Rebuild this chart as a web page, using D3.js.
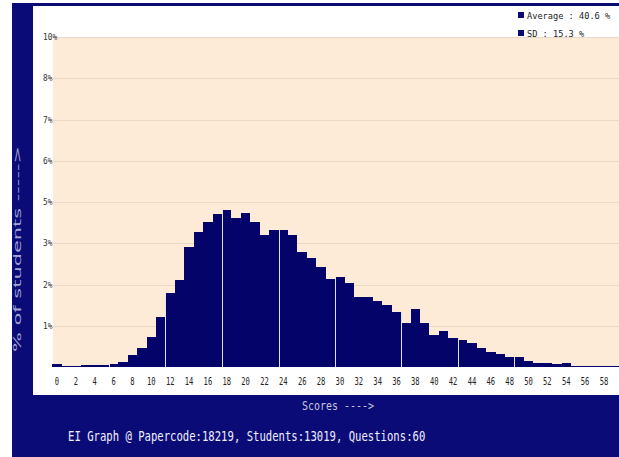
<!DOCTYPE html>
<html>
<head>
<meta charset="utf-8">
<script src="https://cdn.jsdelivr.net/npm/d3@7"></script>
<style>
	body { margin: 0; background: #fff; }
	svg { display: block; }
</style>
</head>
<body>
<svg id="viz"></svg>
<script>
/* data */
var scores = d3.range(0, 61);
var percents = [
	0.10, 0.03, 0.03, 0.05, 0.05, 0.05, 0.10, 0.15, 0.35, 0.58,
	0.92, 1.52, 2.23, 2.64, 3.63, 4.09, 4.38, 4.63, 4.76, 4.52,
	4.66, 4.38, 4.01, 4.14, 4.14, 3.99, 3.48, 3.29, 3.04, 2.68,
	2.72, 2.54, 2.11, 2.11, 2.01, 1.87, 1.68, 1.34, 1.77, 1.34,
	0.96, 1.10, 0.87, 0.82, 0.72, 0.58, 0.46, 0.38, 0.29, 0.29,
	0.19, 0.11, 0.11, 0.08, 0.13, 0.03, 0.03, 0.03, 0.03, 0.03,
	0.03
];
var xTickLabels = d3.range(0, 60, 2);
var yTicks = [1.25, 2.5, 3.75, 5, 6.25, 7.5, 8.75, 10];
var dividers = [6, 12, 18, 24, 30, 37, 43, 49];
var legendItems = ["Average : 40.6 %", "SD : 15.3 %"];
var titleText = "EI Graph @ Papercode:18219, Students:13019, Questions:60";

/* create svg */
var width = 619,
	height = 457;

var plot = { left: 53, right: 619, top: 37, bottom: 367 };

var svg = d3.select('#viz')
		.attr('width', width)
		.attr('height', height);

var x = d3.scaleLinear()
	.domain([-0.5, 60.5])
	.range([52.3, 52.3 + 61 * 9.43]);

var y = d3.scaleLinear()
	.domain([0, 10])
	.range([plot.bottom, plot.top]);

var mono = "'DejaVu Sans Mono', monospace";

// squeeze mono text to the narrow bitmap look
var fitText = function(sel, charW){
	sel.attr("textLength", function(d){ return d3.select(this).text().length * charW; })
		.attr("lengthAdjust", "spacingAndGlyphs");
}

/* frame */
svg.append("rect")
	.attr("x", 12).attr("y", 3)
	.attr("width", width - 12).attr("height", height - 3)
	.attr("fill", "#0b0b78");

svg.append("rect")
	.attr("x", 33).attr("y", 6)
	.attr("width", width - 33).attr("height", 389)
	.attr("fill", "#ffffff");

svg.append("rect")
	.attr("x", plot.left).attr("y", plot.top)
	.attr("width", plot.right - plot.left).attr("height", plot.bottom - plot.top)
	.attr("fill", "#fdebd7");

/* grid + y labels */
var grid = svg.append("g");

grid.selectAll("line")
	.data(yTicks)
	.enter().append("line")
	.attr("x1", plot.left).attr("x2", plot.right)
	.attr("y1", function(d){ return Math.round(y(d)) + 0.5; })
	.attr("y2", function(d){ return Math.round(y(d)) + 0.5; })
	.attr("stroke", "#ead8c6");

grid.selectAll("text")
	.data(yTicks)
	.enter().append("text")
	.attr("x", 43)
	.attr("y", function(d){ return y(d) + 3; })
	.attr("font-family", mono)
	.attr("font-size", 9)
	.attr("fill", "#333")
	.text(function(d){ return Math.floor(d) + "%"; })
	.call(fitText, 4.7);

/* bars */
var barLeft = function(d){ return Math.round(x(d - 0.5)); };

svg.append("g")
	.attr("shape-rendering", "crispEdges")
	.selectAll("rect")
	.data(scores)
	.enter().append("rect")
	.attr("x", barLeft)
	.attr("width", function(d){ return barLeft(d + 1) - barLeft(d); })
	.attr("y", function(d){ return Math.round(y(percents[d])); })
	.attr("height", function(d){ return Math.max(1, Math.round(y(0)) - Math.round(y(percents[d]))); })
	.attr("fill", "#03036a");

svg.append("g")
	.attr("shape-rendering", "crispEdges")
	.selectAll("line")
	.data(dividers)
	.enter().append("line")
	.attr("x1", function(d){ return barLeft(d) + 0.5; })
	.attr("x2", function(d){ return barLeft(d) + 0.5; })
	.attr("y1", y(0))
	.attr("y2", function(d){ return y(Math.max(percents[d - 1], percents[d])); })
	.attr("stroke", "#e2e2ee");

/* x labels */
svg.append("g")
	.selectAll("text")
	.data(xTickLabels)
	.enter().append("text")
	.attr("x", function(d){ return x(d); })
	.attr("y", 385)
	.attr("text-anchor", "middle")
	.attr("font-family", mono)
	.attr("font-size", 10)
	.attr("fill", "#222")
	.text(function(d){ return d; })
	.call(fitText, 4.3);

/* legend */
var legend = svg.append("g")
	.selectAll("g")
	.data(legendItems)
	.enter().append("g")
	.attr("transform", function(d, i){ return "translate(518," + (12 + i * 18) + ")"; });

legend.append("rect")
	.attr("width", 6).attr("height", 6)
	.attr("fill", "#0b0b78");

legend.append("text")
	.attr("x", 9).attr("y", 6.5)
	.attr("font-family", mono)
	.attr("font-size", 9.2)
	.attr("fill", "#222")
	.text(function(d){ return d; })
	.call(fitText, 5.2);

/* axis titles */
svg.append("text")
	.attr("x", 302).attr("y", 410)
	.attr("font-family", mono)
	.attr("font-size", 12)
	.attr("fill", "#c4c4dc")
	.text("Scores ---->")
	.call(fitText, 6);

svg.append("text")
	.attr("transform", "translate(21,352) rotate(-90)")
	.attr("font-family", "'DejaVu Sans', sans-serif")
	.attr("font-size", 11)
	.attr("fill", "#a4a4d0")
	.text("% of students ----->")
	.call(fitText, 10.3);

svg.append("text")
	.attr("x", 68).attr("y", 441)
	.attr("font-family", mono)
	.attr("font-size", 14)
	.attr("fill", "#f0f0fa")
	.text(titleText)
	.call(fitText, 6.38);
</script>
</body>
</html>
